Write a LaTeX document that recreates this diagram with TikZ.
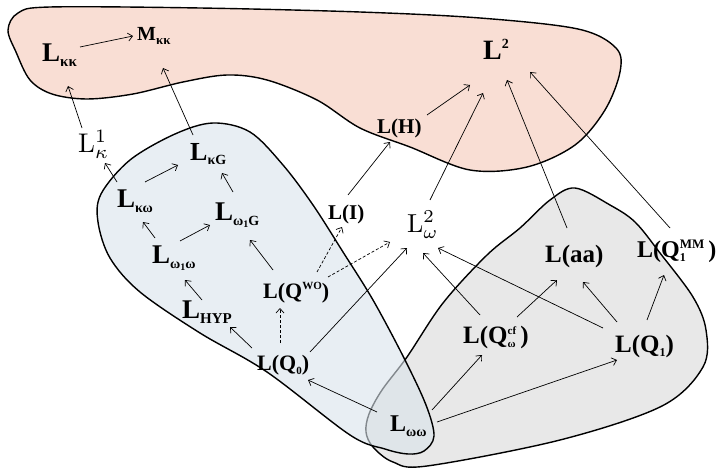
\documentclass[tikz,border=0pt]{standalone}
\usepackage[no-math]{fontspec}
\setmainfont{Liberation Serif}
\usetikzlibrary{arrows.meta}
\definecolor{pinkfill}{HTML}{F9DED4}
\definecolor{bluefill}{RGB}{217,227,235}
\definecolor{grayfill}{HTML}{E8E8E8}
\newcommand{\fs}[2]{{\fontsize{#1}{#1}\selectfont #2}}
\newcommand{\lsub}[3]{\raisebox{-#2pt}{\fontsize{#1}{#1}\selectfont #3}}
\newcommand{\lsup}[3]{\raisebox{#2pt}{\fontsize{#1}{#1}\selectfont #3}}
\newcommand{\conn}[5][arr]{\draw[#1] ([shift={#3}]#2.base west) -- ([shift={#5}]#4.base west);}
\tikzset{
  lab/.style={anchor=base west, inner sep=0pt, font=\bfseries},
  mlab/.style={anchor=base west, inner sep=0pt},
  region/.style={line width=1.4pt, draw=black},
  arr/.style={line width=0.7pt, -{Straight Barb[length=4.5pt,width=8pt,line width=0.7pt]}},
  darr/.style={arr, dash pattern=on 3pt off 2pt}
}
\begin{document}
\begin{tikzpicture}[x=1pt,y=-1pt]
\useasboundingbox (0,0) rectangle (717,468);
% regions
\draw[region, fill=pinkfill] plot[smooth cycle, tension=0.55] coordinates {
 (50,7) (200,8) (360,12) (480,18) (578,29) (616,48) (620,72) (605,110) (575,145)
 (527,167) (470,170) (410,147) (360,128) (317,100) (267,80) (227,75) (183,82)
 (133,94) (87,99) (52,94) (30,80) (16,52) (8,30) (18,13)};
\draw[region, fill=grayfill] plot[smooth cycle, tension=0.55] coordinates {
 (575,188) (610,205) (635,222) (660,253) (693,297) (706,330) (703,367) (662,406)
 (560,440) (427,466) (393,462) (373,447) (366,432) (369,414) (382,390) (407,357)
 (443,303) (487,255) (520,228) (550,200)};
\draw[region, fill=bluefill, fill opacity=0.6] plot[smooth cycle, tension=0.55] coordinates {
 (213,123) (250,132) (283,165) (313,205) (343,252) (373,300) (404,358) (426,405)
 (434,436) (424,451) (408,454) (385,449) (350,435) (267,372) (200,333) (140,292)
 (110,258) (98,222) (101,194) (130,160) (175,134)};
% nodes
\node[lab] (lkk) at (42,62) {\fs{27}{L}\lsub{15}{5}{κκ}};
\node[lab] (mkk) at (137,41) {\fs{20}{M}\lsub{13}{4}{κκ}};
\node[lab] (l2) at (483,60) {\fs{28}{L}\lsup{14}{11}{2}};
\node[mlab] (l1k) at (78,152) {\scalebox{2.7}{$\mathrm{L}^1_\kappa$}};
\node[lab] (lkg) at (190,160) {\fs{26}{L}\lsub{14}{5}{κG}};
\node[lab] (lkw) at (117,207) {\fs{27}{L}\lsub{14}{5}{κω}};
\node[lab] (lw1g) at (215,220) {\fs{27}{L}\lsub{14}{5}{ω\lsub{10}{2}{1}G}};
\node[lab] (lw1w) at (152,263) {\fs{27}{L}\lsub{14}{5}{ω\lsub{10}{2}{1}ω}};
\node[lab] (lhyp) at (182,318) {\fs{27}{L}\lsub{15}{5}{HYP}};
\node[lab] (lqwo) at (263,298) {\fs{22}{L(Q}\lsup{11}{9}{WO}\fs{22}{)}};
\node[lab] (lq0) at (257,370) {\fs{22}{L(Q}\lsub{11}{4}{0}\fs{22}{)}};
\node[lab] (li) at (328,219) {\fs{21}{L(I)}};
\node[mlab] (l2w) at (407,232) {\scalebox{2.6}{$\mathrm{L}^2_\omega$}};
\node[lab] (lh) at (377,133) {\fs{21}{L(H)}};
\node[lab] (laa) at (545,262) {\fs{25}{L(aa)}};
\node[lab] (lqmm) at (637,257) {\fs{24}{L(Q}\makebox[0pt][l]{\lsub{12}{4}{1}}\lsup{13}{9}{MM}\fs{24}{\,)}};
\node[lab] (lqcf) at (463,343) {\fs{25}{L(Q}\makebox[0pt][l]{\lsub{11}{4}{ω}}\lsup{11}{9}{cf}\fs{25}{\,)}};
\node[lab] (lq1) at (615,352) {\fs{25}{L(Q}\lsub{12}{4}{1}\fs{25}{)}};
\node[lab] (lww) at (390,431) {\fs{24}{L}\lsub{14}{5}{ωω}};
% connectors
\conn{lkk}{(38,-15)}{mkk}{(-4,-5)}
\conn{l1k}{(4,-24)}{lkk}{(26,24)}
\conn{lkg}{(3,-25)}{mkk}{(26,27)}
\conn{lkw}{(0,-25)}{l1k}{(27,11)}
\conn{lkw}{(28,-25)}{lkg}{(-12,5)}
\conn{lw1g}{(18,-28)}{lkg}{(32,13)}
\conn{lw1w}{(3,-25)}{lkw}{(26,15)}
\conn{lw1w}{(28,-22)}{lw1g}{(-5,5)}
\conn{lhyp}{(20,-18)}{lw1w}{(33,17)}
\conn{lqwo}{(10,-28)}{lw1g}{(35,20)}
\conn{lq0}{(-5,-22)}{lhyp}{(48,9)}
\conn[darr]{lq0}{(23,-27)}{lqwo}{(17,10)}
\conn{lq0}{(53,-18)}{l2w}{(0,16)}
\conn[darr]{lqwo}{(54,-26)}{li}{(14,8)}
\conn[darr]{lqwo}{(65,-21)}{l2w}{(-17,10)}
\conn{li}{(20,-24)}{lh}{(13,9)}
\conn{lh}{(50,-18)}{l2}{(-13,25)}
\conn{l2w}{(23,-32)}{l2}{(0,33)}
\conn{laa}{(22,-34)}{l2}{(24,20)}
\conn{lqmm}{(33,-29)}{l2}{(47,12)}
\conn{lww}{(-13,-19)}{lq0}{(51,10)}
\conn{lww}{(42,-21)}{lqcf}{(19,12)}
\conn{lww}{(47,-9)}{lq1}{(2,8)}
\conn{lqcf}{(17,-28)}{l2w}{(16,21)}
\conn{lqcf}{(54,-26)}{laa}{(12,18)}
\conn{lq1}{(-12,-24)}{l2w}{(31,16)}
\conn{lq1}{(2,-30)}{laa}{(38,20)}
\conn{lq1}{(32,-32)}{lqmm}{(27,18)}
\end{tikzpicture}
\end{document}
